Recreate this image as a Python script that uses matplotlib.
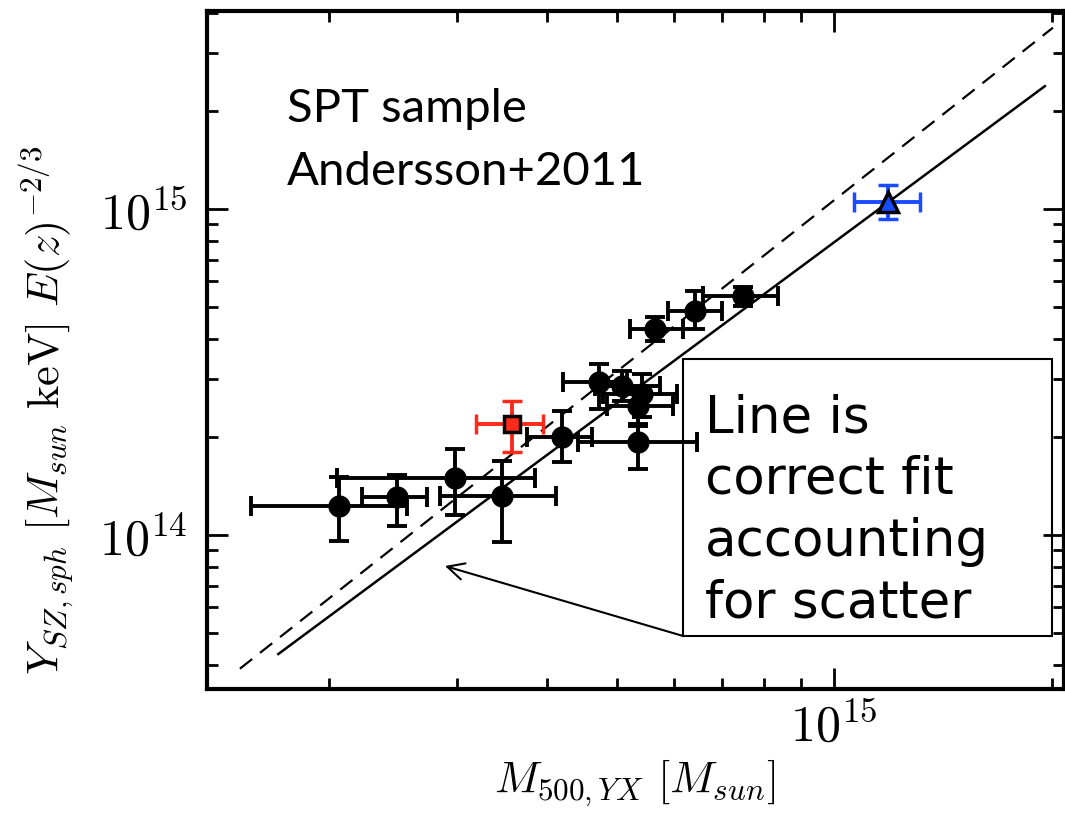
import matplotlib
matplotlib.use('Agg')
import matplotlib.pyplot as plt
import matplotlib.patches as patches
from matplotlib.ticker import NullFormatter
import numpy as np

plt.rcParams['mathtext.fontset'] = 'cm'
plt.rcParams['font.family'] = 'serif'
plt.rcParams['font.serif'] = ['cmr10']
plt.rcParams['axes.formatter.use_mathtext'] = True

# SPT clusters: mass with lower/upper bounds, Y_SZ with lower/upper bounds
m500 = [2.065e14, 2.48e14, 2.985e14, 3.465e14, 4.195e14, 5.355e14, 4.728e14,
        5.078e14, 5.413e14, 5.355e14, 5.647e14, 6.414e14, 7.48e14]
m500_lo = [1.558e14, 2.218e14, 2.05e14, 2.846e14, 3.756e14, 4.419e14, 4.216e14,
           4.666e14, 4.786e14, 4.842e14, 5.214e14, 5.89e14, 6.58e14]
m500_hi = [2.56e14, 2.734e14, 3.853e14, 4.12e14, 4.615e14, 6.45e14, 5.16e14,
           5.74e14, 6.05e14, 5.986e14, 6.18e14, 6.99e14, 8.368e14]
ysz = [1.230e14, 1.305e14, 1.496e14, 1.314e14, 1.994e14, 1.924e14, 2.941e14,
       2.871e14, 2.707e14, 2.492e14, 4.285e14, 4.876e14, 5.42e14]
ysz_lo = [9.56e13, 1.068e14, 1.151e14, 9.50e13, 1.671e14, 1.594e14, 2.435e14,
          2.582e14, 2.301e14, 2.19e14, 3.936e14, 4.285e14, 5.05e14]
ysz_hi = [1.503e14, 1.531e14, 1.835e14, 1.690e14, 2.406e14, 2.164e14, 3.346e14,
          3.19e14, 3.119e14, 2.805e14, 4.665e14, 5.617e14, 5.77e14]

# highlighted clusters
red_m, red_m_lo, red_m_hi = [3.577e14], [3.193e14], [3.953e14]
red_y, red_y_lo, red_y_hi = [2.19e14], [1.801e14], [2.582e14]
blue_m, blue_m_lo, blue_m_hi = [1.188e15], [1.065e15], [1.314e15]
blue_y, blue_y_lo, blue_y_hi = [1.049e15], [9.32e14], [1.185e15]

# scaling relations (end points)
fit_m = [1.70e14, 1.957e15]
fit_y = [4.315e13, 2.382e15]
ss_m = [1.504e14, 2.008e15]
ss_y = [3.89e13, 3.60e15]

box_lines = ['Line is', 'correct fit', 'accounting', 'for scatter']


def errs(v, lo, hi):
    v = np.array(v)
    return [v - np.array(lo), np.array(hi) - v]


fig = plt.figure(figsize=(10.65, 8.2), dpi=100)
ax = fig.add_axes([206.5 / 1065, 130 / 820, (1064 - 206.5) / 1065, 678 / 820])
ax.set_xscale('log')
ax.set_yscale('log')
ax.set_xlim(1.352e14, 2.08e15)
ax.set_ylim(3.37e13, 4.05e15)

ax.plot(ss_m, ss_y, color='black', lw=1.6, ls=(0, (7, 4.5)), zorder=2)
ax.plot(fit_m, fit_y, color='black', lw=1.8, zorder=2)

ekw = dict(elinewidth=2.8, capsize=7.5, capthick=2.8, ls='none', zorder=3)
ax.errorbar(m500, ysz, xerr=errs(m500, m500_lo, m500_hi),
            yerr=errs(ysz, ysz_lo, ysz_hi), fmt='o', color='black',
            ms=15, **ekw)
ax.errorbar(red_m, red_y, xerr=errs(red_m, red_m_lo, red_m_hi),
            yerr=errs(red_y, red_y_lo, red_y_hi), fmt='s', color='#ff2a1a',
            mfc='#ff2a1a', mec='black', mew=2.5, ms=12, **ekw)
ax.errorbar(blue_m, blue_y, xerr=errs(blue_m, blue_m_lo, blue_m_hi),
            yerr=errs(blue_y, blue_y_lo, blue_y_hi), fmt='^', color='#1a4cff',
            mfc='#1a4cff', mec='black', mew=2.5, ms=14, **ekw)

for s in ax.spines.values():
    s.set_linewidth(3)
ax.tick_params(which='both', direction='in', top=True, right=True, width=2)
ax.tick_params(which='major', length=15, labelsize=36)
ax.tick_params(axis='x', which='major', pad=9)
ax.tick_params(axis='y', which='major', pad=14)
ax.tick_params(which='minor', length=8)
ax.xaxis.set_minor_formatter(NullFormatter())
ax.yaxis.set_minor_formatter(NullFormatter())

ax.set_xlabel(r'$M_{500,YX}\ [M_{sun}]$', fontsize=32)
ax.set_ylabel(r'$Y_{SZ,sph}\ [M_{sun}\ \mathrm{keV}]\ E(z)^{-2/3}$', fontsize=32)
ax.xaxis.set_label_coords(0.5, -0.1)
ax.yaxis.set_label_coords(-0.152, 0.413)

ax.text(0.0939, 0.8378, 'SPT sample', transform=ax.transAxes,
        fontsize=34, family='Lato', va='baseline')
ax.text(0.0939, 0.7448, 'Andersson+2011', transform=ax.transAxes,
        fontsize=34, family='Lato', va='baseline')

ax.add_patch(patches.Rectangle((0.5557, 0.0782), 0.4303, 0.4085,
                               transform=ax.transAxes, fill=False,
                               ec='black', lw=1.5, zorder=4))
for i, line in enumerate(box_lines):
    ax.text(0.5813, 0.3805 - i * 0.0914, line, transform=ax.transAxes,
            fontsize=37, family='DejaVu Sans', va='baseline', zorder=5)

ax.annotate('', xy=(0.2781, 0.1814), xycoords='axes fraction',
            xytext=(0.5557, 0.0782), textcoords='axes fraction',
            arrowprops=dict(arrowstyle='->', lw=1.5, color='black',
                            mutation_scale=30, shrinkA=0, shrinkB=0))

fig.savefig('out.png', dpi=100)
